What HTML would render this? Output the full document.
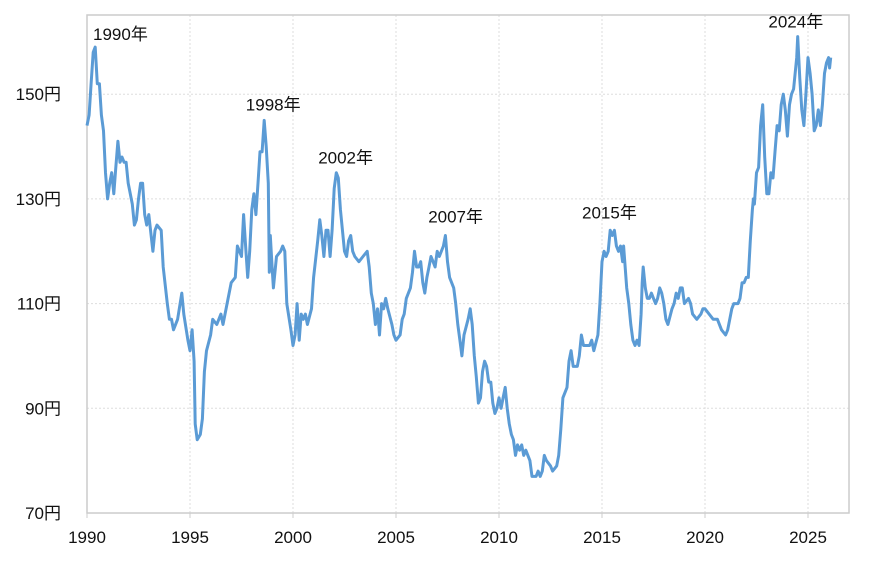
<!DOCTYPE html>
<html><head><meta charset="utf-8"><style>
body{margin:0;background:#fff;}
svg text{font-family:"Liberation Sans","Noto Sans CJK JP",sans-serif;fill:#111;}
</style></head><body>
<svg id="chart" width="890" height="557" xmlns="http://www.w3.org/2000/svg">
<g id="grid"></g>
<rect x="87" y="15" width="762" height="498" fill="none" stroke="#ccc" stroke-width="1.5"/>
<g id="axes"></g>
<path id="line" fill="none" stroke="#5b9bd5" stroke-width="3" stroke-linejoin="round"/>
<g id="ann"></g>
</svg>
<script>
const years=[1990,1990.1,1990.2,1990.3,1990.4,1990.5,1990.6,1990.7,1990.8,1990.9,1991,1991.1,1991.2,1991.3,1991.4,1991.5,1991.6,1991.7,1991.8,1991.9,1992,1992.2,1992.3,1992.4,1992.5,1992.6,1992.7,1992.8,1992.9,1993,1993.2,1993.3,1993.4,1993.6,1993.7,1993.9,1994,1994.1,1994.2,1994.4,1994.6,1994.7,1994.9,1995,1995.1,1995.2,1995.25,1995.35,1995.5,1995.6,1995.7,1995.8,1996,1996.1,1996.3,1996.5,1996.6,1996.8,1997,1997.2,1997.3,1997.5,1997.6,1997.7,1997.8,1997.9,1998,1998.1,1998.2,1998.3,1998.4,1998.5,1998.6,1998.7,1998.8,1998.85,1998.9,1999,1999.05,1999.2,1999.4,1999.5,1999.6,1999.7,1999.9,2000,2000.1,2000.2,2000.3,2000.4,2000.5,2000.6,2000.7,2000.9,2001,2001.2,2001.3,2001.4,2001.5,2001.6,2001.7,2001.8,2001.9,2002,2002.1,2002.2,2002.3,2002.5,2002.6,2002.7,2002.8,2002.9,2003,2003.2,2003.4,2003.6,2003.7,2003.8,2003.9,2004,2004.1,2004.2,2004.3,2004.4,2004.5,2004.6,2004.8,2004.9,2005,2005.2,2005.3,2005.4,2005.5,2005.7,2005.8,2005.9,2006,2006.1,2006.2,2006.3,2006.4,2006.5,2006.6,2006.7,2006.8,2006.9,2007,2007.1,2007.3,2007.4,2007.5,2007.6,2007.8,2007.9,2008,2008.1,2008.2,2008.3,2008.5,2008.6,2008.7,2008.8,2008.9,2009,2009.1,2009.2,2009.3,2009.4,2009.5,2009.6,2009.7,2009.8,2009.9,2010,2010.1,2010.2,2010.3,2010.4,2010.5,2010.6,2010.7,2010.8,2010.9,2011,2011.1,2011.2,2011.3,2011.5,2011.6,2011.8,2011.9,2012,2012.1,2012.2,2012.3,2012.5,2012.6,2012.8,2012.9,2013,2013.1,2013.3,2013.4,2013.5,2013.6,2013.8,2013.9,2014,2014.1,2014.2,2014.4,2014.5,2014.6,2014.8,2014.9,2015,2015.1,2015.2,2015.3,2015.4,2015.5,2015.6,2015.7,2015.8,2015.9,2016,2016.05,2016.2,2016.3,2016.4,2016.5,2016.6,2016.7,2016.8,2016.9,2016.95,2017,2017.1,2017.2,2017.3,2017.4,2017.5,2017.6,2017.7,2017.8,2017.9,2018,2018.1,2018.2,2018.4,2018.5,2018.6,2018.7,2018.8,2018.9,2019,2019.2,2019.3,2019.4,2019.6,2019.8,2019.9,2020,2020.2,2020.4,2020.6,2020.8,2021,2021.1,2021.3,2021.4,2021.6,2021.7,2021.8,2021.9,2022,2022.1,2022.2,2022.3,2022.35,2022.4,2022.5,2022.6,2022.7,2022.8,2022.9,2023,2023.1,2023.2,2023.3,2023.4,2023.5,2023.6,2023.7,2023.8,2023.9,2024,2024.1,2024.2,2024.3,2024.45,2024.5,2024.6,2024.7,2024.8,2024.9,2025,2025.1,2025.2,2025.3,2025.4,2025.5,2025.6,2025.7,2025.8,2025.9,2026,2026.05,2026.1];
const rates=[144,146,152,158,159,152,152,146,143,135,130,133,135,131,136,141,137,138,137,137,133,129,125,126,130,133,133,127,125,127,120,124,125,124,117,110,107,107,105,107,112,108,103,101,105,99,87,84,85,88,97,101,104,107,106,108,106,110,114,115,121,119,127,121,115,120,128,131,127,133,139,139,145,140,133,116,123,116,113,119,120,121,120,110,105,102,104,110,103,108,107,108,106,109,115,122,126,123,119,124,124,119,124,132,135,134,128,120,119,122,123,120,119,118,119,120,117,112,110,106,109,104,110,109,111,109,106,104,103,104,107,108,111,113,116,120,117,117,118,114,112,115,117,119,118,117,120,119,121,123,118,115,113,110,106,103,100,104,107,109,106,100,96,91,92,97,99,98,95,95,91,89,90,92,90,92,94,90,87,85,84,81,83,82,83,81,82,80,77,77,78,77,78,81,80,79,78,79,81,86,92,94,99,101,98,98,100,104,102,102,102,103,101,104,110,118,120,119,120,124,123,124,121,120,121,118,121,113,110,106,103,102,103,102,108,114,117,113,111,111,112,111,110,111,113,112,110,107,106,109,110,112,111,113,113,110,111,110,108,107,108,109,109,108,107,107,105,104,105,109,110,110,111,114,114,115,115,122,128,130,129,135,136,144,148,138,131,131,135,134,139,144,143,148,150,147,142,148,150,151,157,161,153,147,144,150,157,154,150,143,144,147,144,148,154,156,157,155,157];
const xTicks=[1990,1995,2000,2005,2010,2015,2020,2025];
const yTicks=[70,90,110,130,150];
const annYears=[1990,1998,2002,2007,2015,2024];
const annLabels=["1990年","1998年","2002年","2007年","2015年","2024年"];
const annValues=[159,145,135,123,124,161];

const X=y=>87+(y-1990)*20.6;
const Y=v=>513-(v-70)*5.235;
const NS="http://www.w3.org/2000/svg";
function mk(tag,attrs,parent,txt){const e=document.createElementNS(NS,tag);for(const k in attrs)e.setAttribute(k,attrs[k]);if(txt!=null)e.textContent=txt;parent.appendChild(e);return e;}
const grid=document.getElementById('grid'),axes=document.getElementById('axes'),ann=document.getElementById('ann');
xTicks.forEach(t=>{
  const l=mk('line',{x1:X(t),x2:X(t),y1:15,y2:513,stroke:'#ddd','stroke-dasharray':'2,2'},grid);
  
  
  const tk=mk('line',{x1:X(t),x2:X(t),y1:513,y2:518,stroke:'#ccc'},axes);
  
  
  const tx=mk('text',{x:X(t),y:543,'text-anchor':'middle','font-size':'17'},axes,String(t));
  
  
});
yTicks.forEach(t=>{
  if(t>70){const l=mk('line',{x1:87,x2:849,y1:Y(t),y2:Y(t),stroke:'#ddd','stroke-dasharray':'2,2'},grid);
  
  }
  const tx=mk('text',{x:61,y:Y(t)+6,'text-anchor':'end','font-size':'17'},axes,t+'円');
  
  
});
let d='';years.forEach((y,i)=>{d+=(i?'L':'M')+X(y).toFixed(1)+','+Y(rates[i]).toFixed(1);});
document.getElementById('line').setAttribute('d',d);
const dxs=[6,-6,-16,-9,-20,-19],dys=[-7,-10,-9,-13,-12,-9];
annYears.forEach((y,i)=>{
  const t=mk('text',{x:X(y)+dxs[i],y:Y(annValues[i])+dys[i],'font-size':'17'},ann,annLabels[i]);
  
  
});
</script>
</body></html>
